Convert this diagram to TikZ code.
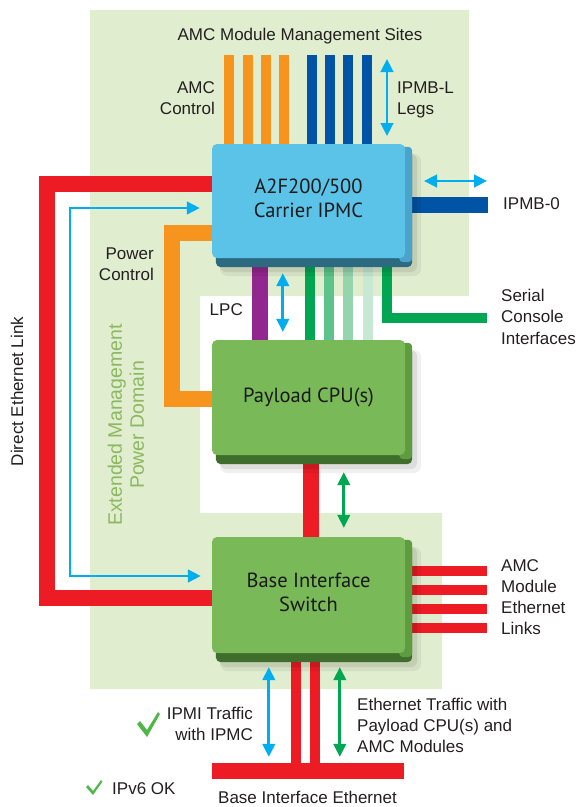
\documentclass[tikz,border=0pt]{standalone}
\usepackage{fontspec}
\setmainfont{Liberation Sans}
\newfontfamily\boxfont{PT Sans}
\usetikzlibrary{arrows.meta}
\definecolor{bgreen}{HTML}{E1EDCF}
\definecolor{ered}{HTML}{ED1C24}
\definecolor{eorange}{HTML}{F7941D}
\definecolor{edblue}{HTML}{0054A6}
\definecolor{elblue}{HTML}{00AEEF}
\definecolor{epurple}{HTML}{92278F}
\definecolor{egreen}{HTML}{00A651}
\definecolor{egreen2}{HTML}{5CC48A}
\definecolor{egreen3}{HTML}{94D5AE}
\definecolor{egreen4}{HTML}{C7E9D3}
\definecolor{ipmcface}{HTML}{5BC3E8}
\definecolor{ipmcside}{HTML}{4AA3CB}
\definecolor{ipmcbot}{HTML}{2C6A82}
\definecolor{cpuface}{HTML}{7AB957}
\definecolor{cpuside}{HTML}{5E9C3F}
\definecolor{cpubot}{HTML}{3F6E2C}
\definecolor{domtext}{HTML}{8CB860}
\definecolor{tickgreen}{HTML}{4DB848}
\definecolor{labeltext}{HTML}{231F20}
\definecolor{boxtext}{HTML}{1A1A1A}
\pgfdeclarelayer{bglayer}
\pgfdeclarelayer{barlayer}
\pgfdeclarelayer{shadelayer}
\pgfsetlayers{bglayer,barlayer,shadelayer,main}
\newcommand\boxextrude[3]{%
  \begin{pgfonlayer}{shadelayer}
    \fill[black,opacity=0.06,rounded corners=8pt] ([shift={(8,10)}]#1.north west) rectangle ([shift={(16,18)}]#1.south east);
    \fill[black,opacity=0.08,rounded corners=7pt] ([shift={(8,10)}]#1.north west) rectangle ([shift={(12,14)}]#1.south east);
    \fill[#3,rounded corners=5pt] ([shift={(4,8)}]#1.north west) rectangle ([shift={(7,9)}]#1.south east);
    \fill[#2,rounded corners=4pt] ([shift={(-6,3)}]#1.north east) rectangle ([shift={(7,4)}]#1.south east);
  \end{pgfonlayer}}
\begin{document}
\begin{tikzpicture}[x=1pt,y=-1pt,
  lbl/.style={font=\fontsize{17}{21}\selectfont, text=labeltext, inner sep=0pt},
  boxnode/.style={rounded corners=5pt, inner sep=0pt, align=center,
    font=\boxfont\fontsize{20.5}{23.5}\selectfont, text=boxtext, minimum width=193pt},
  fatbar/.style={line width=16pt},
  slimbar/.style={line width=10pt},
  twoway/.style={line width=2.7pt,
    {Triangle[length=13pt,width=12.5pt]}-{Triangle[length=13pt,width=12.5pt]}}
]
\useasboundingbox (0,0) rectangle (578,807);

% domain background
\begin{pgfonlayer}{bglayer}
  \fill[bgreen] (90,10) -- (469,10) -- (469,296) -- (200,296) -- (200,513)
    -- (442,513) -- (442,689) -- (90,689) -- cycle;
\end{pgfonlayer}

% boxes
\node[boxnode, fill=ipmcface, minimum height=114pt] (ipmc) at (308.5,201)
  {\raisebox{-4pt}{\begin{tabular}{@{}c@{}}A2F200/500\\Carrier IPMC\end{tabular}}};
\node[boxnode, fill=cpuface, minimum height=115pt] (cpu) at (308.5,397.5)
  {\raisebox{-2pt}{Payload CPU(s)}};
\node[boxnode, fill=cpuface, minimum height=116pt] (sw) at (308.5,595)
  {\raisebox{-4pt}{\begin{tabular}{@{}c@{}}Base Interface\\Switch\end{tabular}}};
\node[fill=ered, minimum width=192pt, minimum height=16pt, inner sep=0pt] (bie) at (308,771) {};

\boxextrude{ipmc}{ipmcside}{ipmcbot}
\boxextrude{cpu}{cpuside}{cpubot}
\boxextrude{sw}{cpuside}{cpubot}

% bars
\begin{pgfonlayer}{barlayer}
  \foreach \i/\xx in {1/229,2/248,3/266,4/284}{
    \coordinate (amc\i) at (\xx,55);
    \draw[eorange,slimbar] (amc\i) -- (amc\i |- ipmc.north);}
  \foreach \i/\xx in {1/312,2/330,3/348,4/367}{
    \coordinate (ipl\i) at (\xx,55);
    \draw[edblue,slimbar] (ipl\i) -- (ipl\i |- ipmc.north);}
  \coordinate (ipmbz) at (488,205);
  \draw[edblue,fatbar] (ipmc.east |- ipmbz) -- (ipmbz);
  \coordinate (dlTop) at (47,184);
  \coordinate (dlBot) at (47,598);
  \draw[ered,fatbar] (ipmc.west |- dlTop) -- (dlTop) -- (dlBot) -- (sw.west |- dlBot);
  \coordinate (pcTop) at (172,233);
  \coordinate (pcBot) at (172,399);
  \draw[eorange,fatbar] (ipmc.west |- pcTop) -- (pcTop) -- (pcBot) -- (cpu.west |- pcBot);
  \draw[epurple,fatbar] ([shift={(48,0)}]ipmc.south west) -- ([shift={(48,0)}]cpu.north west);
  \foreach \s/\c in {98.5/egreen,117.5/egreen2,136.5/egreen3,156/egreen4}{
    \draw[\c,slimbar] ([shift={(\s,0)}]ipmc.south west) -- ([shift={(\s,0)}]cpu.north west);}
  \coordinate (serEnd) at (487,318);
  \draw[egreen,slimbar] ([shift={(175,0)}]ipmc.south west) |- (serEnd);
  \draw[ered,fatbar] ([shift={(99,0)}]cpu.south west) -- ([shift={(99,0)}]sw.north west);
  \foreach \i/\yy in {1/570.5,2/589.5,3/608.5,4/627.5}{
    \coordinate (lk\i) at (487,\yy);
    \draw[ered,slimbar] (sw.east |- lk\i) -- (lk\i);}
  \coordinate (bq1) at ([shift={(84.5,0)}]sw.south west);
  \coordinate (bq2) at ([shift={(103.5,0)}]sw.south west);
  \draw[ered,slimbar] (bq1) -- (bq1 |- bie.north);
  \draw[ered,slimbar] (bq2) -- (bq2 |- bie.north);
\end{pgfonlayer}

% arrows
\coordinate (ilA) at (387,59);
\coordinate (ilB) at (387,136);
\draw[elblue,twoway] (ilA) -- (ilB);
\coordinate (izA) at (424,181);
\coordinate (izB) at (487,181);
\draw[elblue,twoway] (izA) -- (izB);
\coordinate (dbTop) at (70,208);
\coordinate (dbBot) at (70,576);
\path (ipmc.west |- dbTop) ++(-12,0) coordinate (dbA);
\path (sw.west |- dbBot) ++(-11,0) coordinate (dbB);
\draw[elblue,twoway] (dbA) -- (dbTop) -- (dbBot) -- (dbB);
\path (ipmc.south west) ++(71,15) coordinate (lpA);
\path (cpu.north west) ++(71,-8) coordinate (lpB);
\draw[elblue,twoway] (lpA) -- (lpB);
\path (cpu.south west) ++(132,17) coordinate (cgA);
\path (sw.north west) ++(132,-9) coordinate (cgB);
\draw[egreen,twoway] (cgA) -- (cgB);
\path (sw.south west) ++(57,14) coordinate (imA);
\path (bie.north west) ++(57,-6) coordinate (imB);
\draw[elblue,twoway] (imA) -- (imB);
\path (sw.south west) ++(128,14) coordinate (etA);
\path (bie.north west) ++(128,-6) coordinate (etB);
\draw[egreen,twoway] (etA) -- (etB);

% check marks
\fill[tickgreen] (137,724) -- (140,721) -- (147,730) -- (158,712) -- (160,714) -- (147,737) -- cycle;
\fill[tickgreen] (86,787) -- (88,785) -- (93,791) -- (101,780) -- (102.5,781.5) -- (93,795) -- cycle;

% labels
\node[lbl, anchor=base] (tSites) at (300,40) {AMC Module Management Sites};
\node[lbl, anchor=north east, align=right] (tAmcCtl) at (215,81.8) {AMC\\Control};
\node[lbl, anchor=north west, align=left] (tIpmbl) at (397,81.8) {IPMB-L\\Legs};
\node[lbl, anchor=base west] (tIpmbz) at (503,209) {IPMB-0};
\node[lbl, anchor=north east, align=right] (tPower) at (154,247.8) {Power\\Control};
\node[lbl, anchor=base east] (tLpc) at (243,315) {LPC};
\node[lbl, anchor=north west, align=left, font=\fontsize{17}{21.5}\selectfont] (tSerial) at (501,288.8) {Serial\\Console\\Interfaces};
\node[lbl, rotate=90] (tDirect) at (17,391.5) {Direct Ethernet Link};
\node[lbl, rotate=90, align=center, text=domtext, font=\fontsize{19.5}{22}\selectfont] (tDomain) at (126,425) {Extended Management\\Power Domain};
\node[lbl, anchor=north west, align=left] (tLinks) at (501,559.8) {AMC\\Module\\Ethernet\\Links};
\node[lbl, anchor=north west, align=left] (tEthTr) at (357,697.8) {Ethernet Traffic with\\Payload CPU(s) and\\AMC Modules};
\node[lbl, anchor=north east, align=right] (tIpmi) at (253,706.8) {IPMI Traffic\\with IPMC};
\node[lbl, anchor=base west] (tIpv6) at (112,794) {IPv6 OK};
\node[lbl, anchor=base west] (tBie) at (218,803) {Base Interface Ethernet};
\end{tikzpicture}
\end{document}
